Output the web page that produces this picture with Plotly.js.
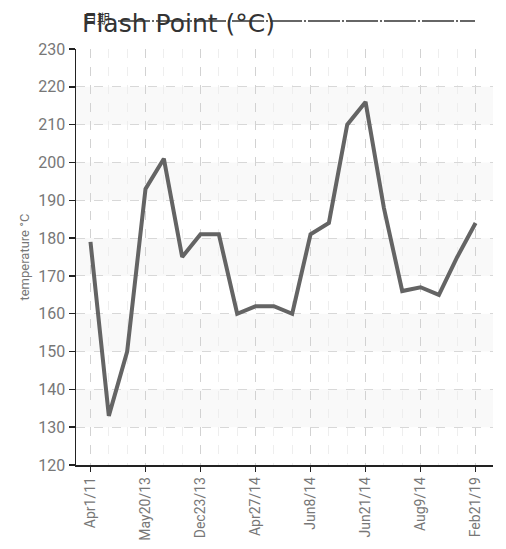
<!DOCTYPE html>
<html>
<head>
<meta charset="utf-8">
<script src="https://cdn.plot.ly/plotly-3.0.1.min.js"></script>
<style>html,body{margin:0;padding:0;background:#fff;}#chart{width:506px;height:549px;}</style>
</head>
<body>
<div id="chart"></div>
<script>
// Data
var pointIndex = [0,1,2,3,4,5,6,7,8,9,10,11,12,13,14,15,16,17,18,19,20,21];
var flashPoint = [179,133,150,193,201,175,181,181,160,162,162,160,181,184,210,216,188,166,167,165,175,184];
var tickPositions = [0,3,6,9,12,15,18,21];
var tickLabels = ["Apr1/11","May20/13","Dec23/13","Apr27/14","Jun8/14","Jun21/14","Aug9/14","Feb21/19"];
var bandStarts = [130,150,170,190,210];

var narrow = "Roboto, sans-serif";

var shapes = bandStarts.map(function(b){
  return {type:'rect', xref:'paper', yref:'y', x0:0, x1:1, y0:b, y1:b+10,
          fillcolor:'#f9f9f9', line:{width:0}, layer:'below'};
});
shapes.push({type:'line', xref:'paper', yref:'paper', x0:(118-76)/417, x1:(475-76)/417,
             y0:1+(49-21)/416, y1:1+(49-21)/416, line:{color:'#666', width:2, dash:'32px,2px,2px,2px'}});

var trace = {
  x: pointIndex, y: flashPoint, type:'scatter', mode:'lines',
  line:{color:'#646464', width:4}, hoverinfo:'y'
};

var layout = {
  width:506, height:549,
  margin:{l:76, r:13, t:49, b:84},
  paper_bgcolor:'#fff', plot_bgcolor:'#fff',
  showlegend:false,
  title:{text:'Flash Point (°C)', x:82/506, xanchor:'left', y:1-23/549, yanchor:'middle',
         font:{family:'DejaVu Sans, sans-serif', size:25, color:'#333'}},
  xaxis:{
    range:[-0.79, 21.95], tickmode:'array', tickvals:tickPositions, ticktext:tickLabels,
    tickangle:-90, ticks:'outside', ticklen:5, tickwidth:1.5, tickcolor:'#222',
    showline:true, linecolor:'#222', linewidth:1.5,
    showgrid:true, gridcolor:'#d2d2d2', griddash:'dash', gridwidth:1,
    minor:{dtick:1, tick0:0, showgrid:true, gridcolor:'#eeeeee', griddash:'dash', gridwidth:1},
    zeroline:false,
    tickfont:{family:narrow, size:14, color:'#777'}
  },
  yaxis:{
    range:[120,230], dtick:10, tick0:120, ticks:'outside', ticklen:6, tickwidth:1.5, tickcolor:'#222',
    showline:true, linecolor:'#222', linewidth:1.5,
    showgrid:true, gridcolor:'#d8d8d8', griddash:'dash', gridwidth:1,
    zeroline:false,
    tickfont:{family:narrow, size:16, color:'#777'},
    title:{text:'temperature °C', standoff:6, font:{family:narrow, size:13, color:'#777'}}
  },
  shapes:shapes,
  annotations:[{text:'日期', xref:'paper', yref:'paper', x:(82-76)/417, y:1+(49-17)/416,
    xanchor:'left', yanchor:'middle', showarrow:false,
    font:{family:'Noto Sans CJK SC, sans-serif', size:13, color:'#333'}}]
};

Plotly.newPlot('chart',[trace],layout,{displayModeBar:false, staticPlot:true});
</script>
</body>
</html>
